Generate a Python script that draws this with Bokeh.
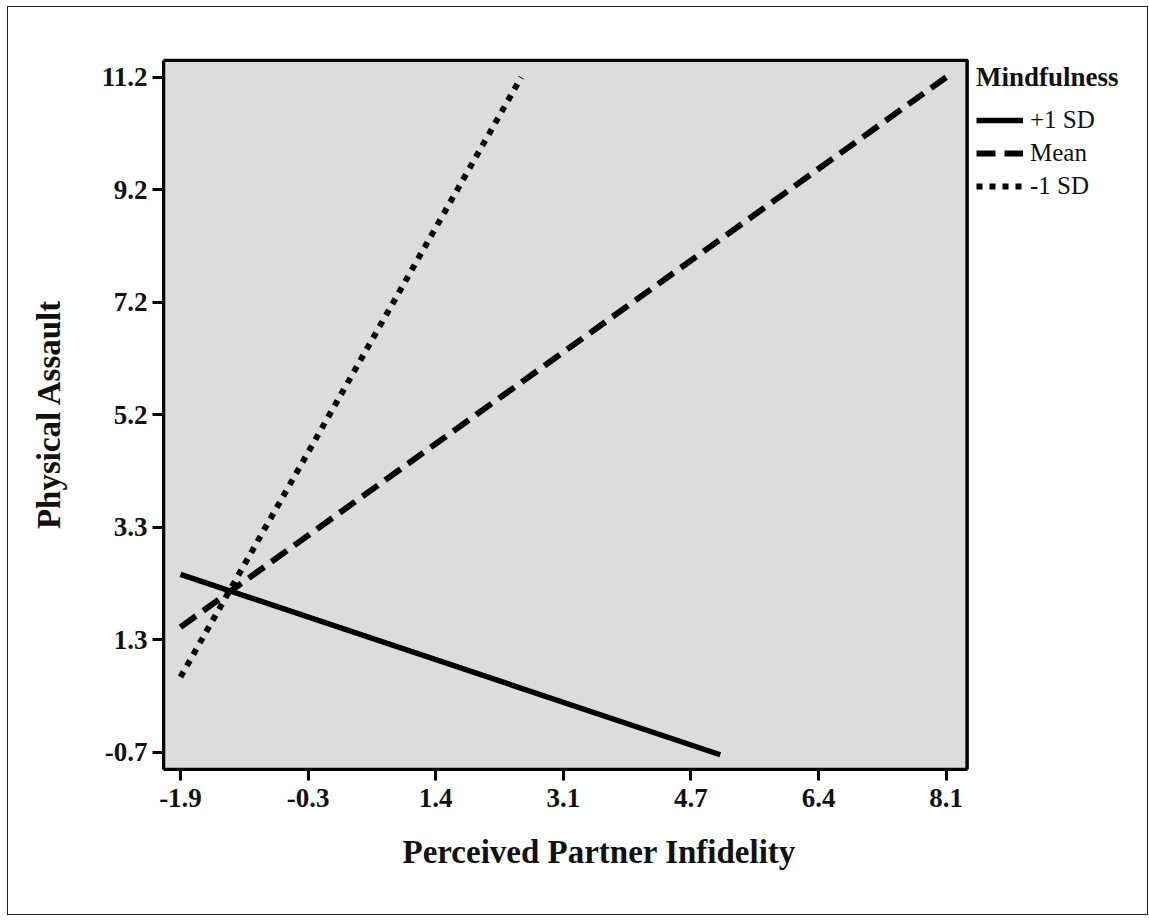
from bokeh.plotting import figure
from bokeh.models import (Range1d, FixedTicker, CustomJSTickFormatter, Legend, LegendItem,
                          BoxAnnotation, Title)
from bokeh.embed import file_html
from bokeh.resources import INLINE

# ---- data ----
x_tick_vals = [-1.9, -0.2333, 1.4333, 3.1, 4.7667, 6.4333, 8.1]
x_tick_labels = ["-1.9", "-0.3", "1.4", "3.1", "4.7", "6.4", "8.1"]
y_tick_vals = [-0.7, 1.2833, 3.2667, 5.25, 7.2333, 9.2167, 11.2]
y_tick_labels = ["-0.7", "1.3", "3.3", "5.2", "7.2", "9.2", "11.2"]

plus_sd_x = [-1.9, 5.15]
plus_sd_y = [2.44, -0.74]
mean_x = [-1.9, 8.1]
mean_y = [1.51, 11.2]
minus_sd_x = [-1.9, 2.55]
minus_sd_y = [0.63, 11.2]

# plotting area limits (data units)
X_MIN, X_MAX = -2.122, 8.374
Y_MIN, Y_MAX = -1.0, 11.5

FONT = "Liberation Serif"

# canvas frame extends right of the grey plotting area to host the legend
p = figure(width=1141, height=909, output_backend="svg", toolbar_location=None,
           x_range=Range1d(X_MIN, 10.678), y_range=Range1d(Y_MIN, 11.53),
           min_border_left=155, min_border_top=51, min_border_bottom=147,
           min_border_right=6)
p.styles = {"border": "1.5px solid #222", "margin-left": "7px", "margin-top": "6px"}

p.background_fill_color = "white"
p.border_fill_color = "white"
p.outline_line_color = None
p.xgrid.visible = False
p.ygrid.visible = False

p.add_layout(BoxAnnotation(left=X_MIN, right=X_MAX, bottom=Y_MIN, top=Y_MAX,
                           fill_color="#dcdcdc", fill_alpha=1.0,
                           line_color="black", line_alpha=1.0, line_width=3.5,
                           level="underlay"))

r1 = p.line(plus_sd_x, plus_sd_y, line_color="black", line_width=5.5)
r2 = p.line(mean_x, mean_y, line_color="black", line_width=6, line_dash="19 9")
r3 = p.line(minus_sd_x, minus_sd_y, line_color="black", line_width=6, line_dash="6 7")

for ax, vals, labels in ((p.xaxis[0], x_tick_vals, x_tick_labels),
                         (p.yaxis[0], y_tick_vals, y_tick_labels)):
    ax.ticker = FixedTicker(ticks=vals, minor_ticks=[])
    ax.formatter = CustomJSTickFormatter(args=dict(labels=labels), code="return labels[index];")
    ax.axis_line_width = 3
    ax.axis_line_color = "black"
    ax.major_tick_line_width = 3
    ax.major_tick_out = 11
    ax.major_tick_in = 0
    ax.minor_tick_line_color = None
    ax.major_label_text_font = FONT
    ax.major_label_text_font_style = "bold"
    ax.major_label_text_font_size = "27px"
    ax.major_label_text_color = "#111"
    ax.axis_label_text_font = FONT
    ax.axis_label_text_font_style = "bold"
    ax.axis_label_text_font_size = "33px"
    ax.axis_label_text_color = "#111"

p.xaxis.bounds = (X_MIN, X_MAX)
p.yaxis.bounds = (Y_MIN, Y_MAX)
p.yaxis.axis_label = "Physical Assault"
p.xaxis.major_label_standoff = 8
p.yaxis.major_label_standoff = 5
p.yaxis.axis_label_standoff = 32

xlabel = Title(text="Perceived Partner Infidelity", align="left", offset=239,
               text_font=FONT, text_font_style="bold", text_font_size="33px",
               text_color="#111", standoff=44)
p.add_layout(xlabel, "below")

legend = Legend(items=[LegendItem(label="+1 SD", renderers=[r1]),
                       LegendItem(label="Mean", renderers=[r2]),
                       LegendItem(label="-1 SD", renderers=[r3])],
                title="Mindfulness", location=(813, 569))
legend.title_text_font = FONT
legend.title_text_font_style = "bold"
legend.title_text_font_size = "27px"
legend.title_text_color = "#111"
legend.title_standoff = 13
legend.label_text_font = FONT
legend.label_text_font_size = "25px"
legend.label_text_color = "#111"
legend.label_standoff = 7
legend.glyph_width = 47
legend.glyph_height = 26
legend.label_height = 26
legend.spacing = 5
legend.padding = 0
legend.margin = 0
legend.border_line_color = None
legend.background_fill_alpha = 0
p.add_layout(legend, "center")

open("out.html", "w").write(file_html(p, INLINE))
